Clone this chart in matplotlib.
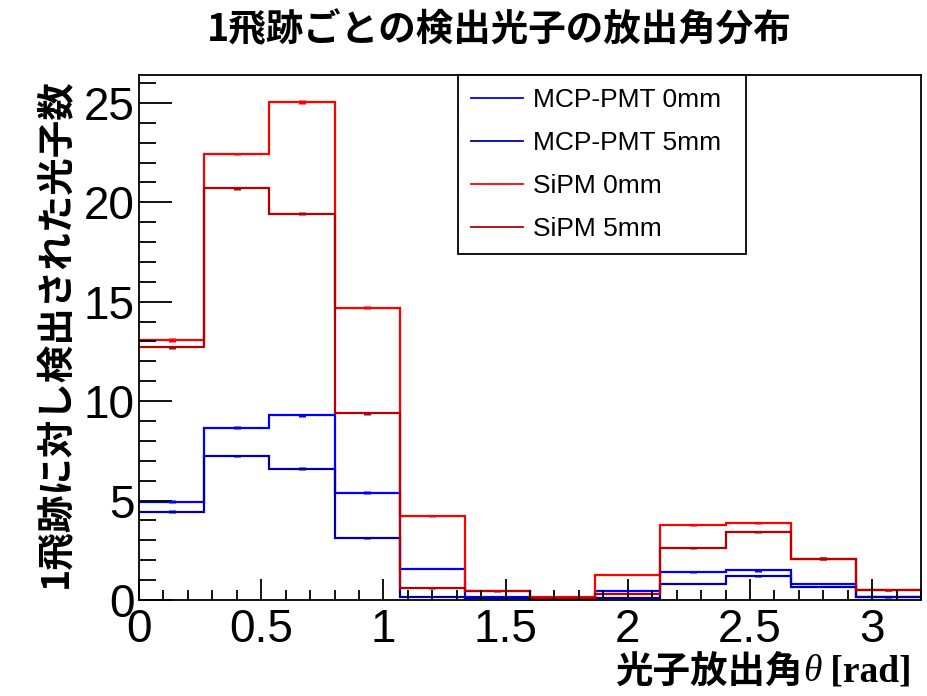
import numpy as np
import matplotlib
matplotlib.use("Agg")
import matplotlib.pyplot as plt
from matplotlib.lines import Line2D

# Emission-angle histograms: 12 bins over 0 .. 3.2 rad
bin_edges = np.linspace(0.0, 3.2, 13)

mcp_0mm = [4.95, 8.66, 9.29, 5.40, 1.58, 0.17, 0.03, 0.47, 1.41, 1.49, 0.82, 0.15]
mcp_5mm = [4.44, 7.25, 6.61, 3.12, 0.15, 0.12, 0.03, 0.09, 0.82, 1.19, 0.67, 0.14]
sipm_0mm = [13.07, 22.43, 25.06, 14.70, 4.24, 0.46, 0.15, 1.28, 3.76, 3.86, 2.08, 0.50]
sipm_5mm = [12.70, 20.70, 19.43, 9.38, 0.60, 0.43, 0.12, 0.32, 2.60, 3.42, 2.08, 0.48]

mcp_0mm_err = [0.07, 0.07, 0.07, 0.06, 0.04, 0.02, 0.01, 0.03, 0.05, 0.06, 0.04, 0.02]
mcp_5mm_err = [0.07, 0.06, 0.06, 0.05, 0.02, 0.02, 0.01, 0.02, 0.04, 0.05, 0.04, 0.02]
sipm_0mm_err = [0.09, 0.07, 0.10, 0.08, 0.05, 0.03, 0.02, 0.04, 0.06, 0.06, 0.06, 0.03]
sipm_5mm_err = [0.09, 0.08, 0.07, 0.07, 0.03, 0.03, 0.02, 0.02, 0.06, 0.06, 0.08, 0.03]

labels = ["MCP-PMT 0mm", "MCP-PMT 5mm", "SiPM 0mm", "SiPM 5mm"]
colors = ["#0000ff", "#0000aa", "#ff0000", "#b80000"]

title = "1飛跡ごとの検出光子の放出角分布"
ylabel = "1飛跡に対し検出された光子数"
xlabel_jp = "光子放出角"
xlabel_sym = "θ"
xlabel_unit = " [rad]"

fig = plt.figure(figsize=(9.28, 6.96), dpi=100)
ax = fig.add_axes([0.1498, 0.138, 0.8427, 0.7542])

series = [(mcp_0mm, mcp_0mm_err), (mcp_5mm, mcp_5mm_err),
          (sipm_0mm, sipm_0mm_err), (sipm_5mm, sipm_5mm_err)]
centers = 0.5 * (bin_edges[:-1] + bin_edges[1:])
for (vals, errs), col in zip(series, colors):
    ax.stairs(vals, bin_edges, baseline=None, color=col, linewidth=1.6)
    ax.errorbar(centers, vals, yerr=errs, fmt="none", ecolor=col,
                elinewidth=5, capsize=0)

ax.set_xlim(0, 3.2)
ax.set_ylim(0, 26.4)

tick_font = dict(family=["Liberation Sans"], size=33)
ax.set_xticks([0, 0.5, 1, 1.5, 2, 2.5, 3])
ax.set_xticklabels(["0", "0.5", "1", "1.5", "2", "2.5", "3"], **tick_font)
ax.set_yticks([0, 5, 10, 15, 20, 25])
ax.set_yticklabels(["0", "5", "10", "15", "20", "25"], **tick_font)
ax.set_xticks(np.arange(0, 3.21, 0.1), minor=True)
ax.set_yticks(np.arange(0, 26.5, 1), minor=True)
ax.tick_params(axis="x", which="major", direction="in", length=15, width=1.3, pad=6)
ax.tick_params(axis="x", which="minor", direction="in", length=7.5, width=1.3)
ax.tick_params(axis="y", which="major", direction="in", length=24, width=1.3, pad=3)
ax.tick_params(axis="y", which="minor", direction="in", length=12, width=1.3)
for s in ax.spines.values():
    s.set_linewidth(1.3)

# Legend box
handles = [Line2D([], [], color=c, linewidth=1.3) for c in colors]
leg = ax.legend(handles, labels, loc="upper left",
                bbox_to_anchor=(458 / 928, 1 - 250 / 696, (746 - 458) / 928, (250 - 75) / 696),
                bbox_transform=fig.transFigure, mode="expand",
                prop=dict(family=["Liberation Sans"], size=19),
                handlelength=1.95, handletextpad=0.4, labelspacing=0.72,
                borderpad=0.5, borderaxespad=0, fancybox=False, framealpha=1,
                edgecolor="black")
leg.get_frame().set_linewidth(1.3)

fig.text(499 / 928, 1 - 30 / 696, title, ha="center", va="center",
         family=["Noto Sans CJK JP"], weight="bold", size=27)
fig.text(55 / 928, 1 - 333 / 696, ylabel, ha="center", va="center", rotation=90,
         family=["Noto Sans CJK JP"], weight="bold", size=27)

# x-axis title assembled right to left: unit, symbol, Japanese text
t_unit = fig.text(912 / 928, 1 - 672 / 696, xlabel_unit, ha="right", va="center",
                  family=["Liberation Serif"], weight="bold", size=27)
t_sym = ax.annotate(xlabel_sym, xy=(0, 0.5), xycoords=t_unit, ha="right", va="center",
                    family=["Liberation Serif"], style="italic", size=27,
                    annotation_clip=False)
ax.annotate(xlabel_jp, xy=(0, 0.5), xycoords=t_sym, ha="right", va="center",
            family=["Noto Sans CJK JP"], weight="bold", size=27,
            annotation_clip=False)

fig.savefig("out.png", dpi=100)
